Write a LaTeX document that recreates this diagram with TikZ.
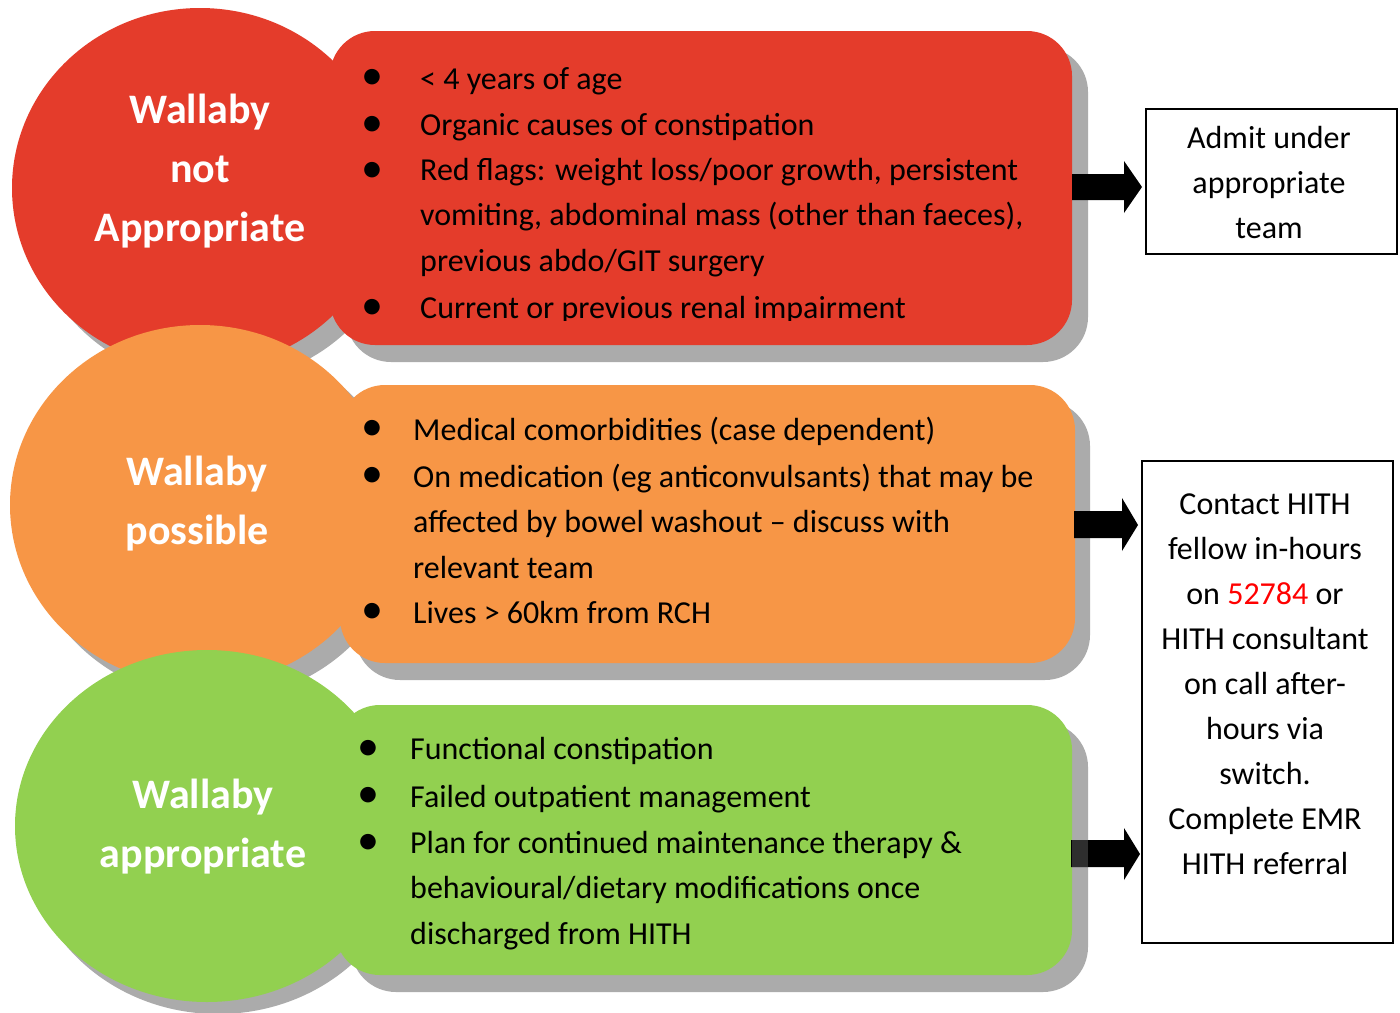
\documentclass[tikz,border=0pt]{standalone}
\usepackage{fontspec}
\setmainfont{Carlito}
\definecolor{cred}{HTML}{E43C2B}
\definecolor{corange}{HTML}{F79646}
\definecolor{cgreen}{HTML}{92D050}
\definecolor{shadowgray}{HTML}{ABABAB}
\definecolor{darkpatch}{HTML}{2E2E2E}
\definecolor{numred}{HTML}{FF0000}
\begin{document}
\begin{tikzpicture}[x=1pt,y=-1pt,
  title/.style={text=white,font=\fontsize{42}{59}\selectfont\bfseries,align=center,anchor=base,inner sep=0},
  item/.style={font=\fontsize{32}{45.5}\selectfont,align=left,anchor=base west,inner sep=0},
  bul/.style={font=\fontsize{44}{44}\selectfont,anchor=center,inner sep=0},
  outbox/.style={draw=black,line width=1.5pt,fill=white},
  boxtext/.style={font=\fontsize{32}{45}\selectfont,align=center,anchor=base,inner sep=0},
  blockarrow/.style={fill=black}]
\useasboundingbox (0,0) rectangle (1400,1012);
\fill[white] (0,0) rectangle (1400,1012);

% ---------- red group ----------
\fill[shadowgray] (215,203) ellipse [x radius=188, y radius=180];
\fill[shadowgray,rounded corners=45] (346,47) rectangle (1088,362);
\fill[cred,rounded corners=45] (330,31) rectangle (1072,345);
\fill[cred] (200,188) ellipse [x radius=188, y radius=180];
% multi-line nodes: anchor=base is the baseline of the last line
\node[title] (t1) at (200,241) {Wallaby\\not\\Appropriate};
\begin{scope}
\clip (330,31) rectangle (1072,320);
\node[bul] (b11) at (372,79) {•};
\node[bul] (b12) at (372,126) {•};
\node[bul] (b13) at (372,172) {•};
\node[bul] (b14) at (372,309) {•};
\node[item] (i11) at (420,89) {< 4 years of age};
\node[item] (i12) at (420,135) {Organic causes of constipation};
\node[item] (i13) at (420,271) {Red flags: weight loss/poor growth, persistent\\vomiting, abdominal mass (other than faeces),\\previous abdo/GIT surgery};
\node[item] (i14) at (420,318) {Current or previous renal impairment};
\end{scope}

% ---------- orange group ----------
\fill[shadowgray] (215,520) ellipse [x radius=190, y radius=180];
\fill[shadowgray,rounded corners=45] (355,401) rectangle (1090,680);
\fill[corange,rounded corners=45] (340,385) rectangle (1075,663);
\fill[corange] (200,505) ellipse [x radius=190, y radius=180];
\node[title] (t2) at (197,544) {Wallaby\\possible};
\node[bul] (b21) at (372,430) {•};
\node[bul] (b22) at (372,477) {•};
\node[bul] (b23) at (372,613) {•};
\node[item] (i21) at (413,440) {Medical comorbidities (case dependent)};
\node[item] (i22) at (413,578) {On medication (eg anticonvulsants) that may be\\affected by bowel washout – discuss with\\relevant team};
\node[item] (i23) at (413,623) {Lives > 60km from RCH};

% ---------- green group ----------
\fill[shadowgray] (218,838) ellipse [x radius=192, y radius=176];
\fill[shadowgray,rounded corners=45] (351,722) rectangle (1088,992);
\fill[cgreen,rounded corners=45] (335,705) rectangle (1072,975);
\fill[cgreen] (207,826) ellipse [x radius=192, y radius=176];
\node[title] (t3) at (203,867) {Wallaby\\appropriate};
\node[bul] (b31) at (368,750) {•};
\node[bul] (b32) at (368,797) {•};
\node[bul] (b33) at (368,844) {•};
\node[item] (i31) at (410,759) {Functional constipation};
\node[item] (i32) at (410,807) {Failed outpatient management};
\node[item] (i33) at (410,944) {Plan for continued maintenance therapy \&\\behavioural/dietary modifications once\\discharged from HITH};

% ---------- outcome boxes ----------
\node[outbox,minimum width=251,minimum height=145,inner sep=0] (box1) at (1271.5,181.5) {};
\node[boxtext] (bt1) at (1269,238) {Admit under\\appropriate\\team};
\node[outbox,minimum width=251,minimum height=482,inner sep=0] (box2) at (1267.5,702) {};
\node[boxtext] (bt2) at (1265,874) {Contact HITH\\fellow in-hours\\on \textcolor{numred}{52784} or\\HITH consultant\\on call after-\\hours via\\switch.\\Complete EMR\\HITH referral};

% ---------- block arrows ----------
\coordinate (a1) at (1142,187);
\fill[blockarrow] (1072,174) -- (1124,174) -- (1124,161) -- (a1) -- (1124,213) -- (1124,200) -- (1072,200) -- cycle;
\coordinate (a2) at (1138,525);
\fill[blockarrow] (1074,511) -- (1122,511) -- (1122,498) -- (a2) -- (1122,551) -- (1122,538) -- (1074,538) -- cycle;
\coordinate (a3) at (1140,854);
\fill[blockarrow] (1071,840) -- (1124,840) -- (1124,828) -- (a3) -- (1124,880) -- (1124,867) -- (1071,867) -- cycle;
\fill[darkpatch] (1072,840) rectangle (1088,867);
\end{tikzpicture}
\end{document}
